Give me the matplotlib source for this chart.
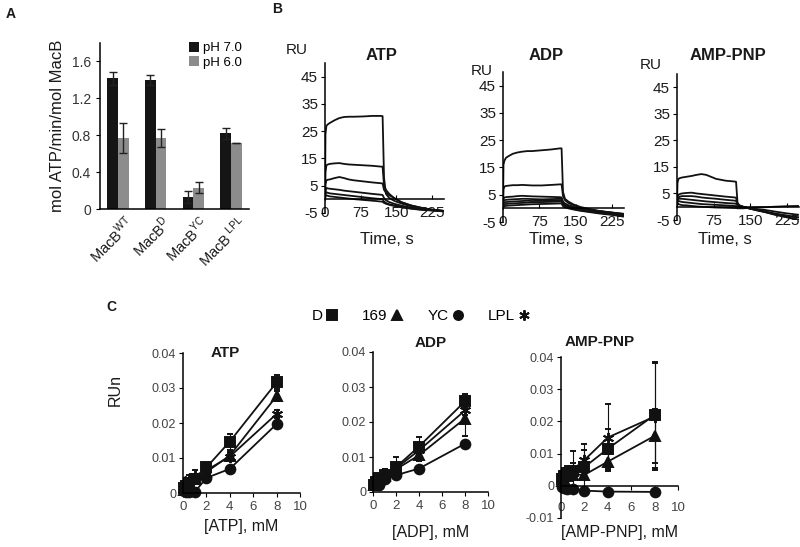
import matplotlib
matplotlib.use('Agg')
import matplotlib.pyplot as plt
from matplotlib.lines import Line2D
from matplotlib.transforms import ScaledTranslation

plt.rcParams['font.family'] = ['Liberation Sans', 'DejaVu Sans']
plt.rcParams['axes.linewidth'] = 1.1
plt.rcParams['axes.unicode_minus'] = False
plt.rcParams['mathtext.fontset'] = 'custom'
plt.rcParams['mathtext.rm'] = 'Liberation Sans'

# ---------------- Panel A data ----------------
a_groups = [r'MacB$^{\rm WT}$', r'MacB$^{\rm D}$', r'MacB$^{\rm YC}$', r'MacB$^{\rm\ LPL}$']
a_ph7 = [1.42, 1.40, 0.13, 0.82]
a_ph7_err = [0.07, 0.05, 0.07, 0.06]
a_ph6 = [0.77, 0.77, 0.23, 0.72]
a_ph6_err = [0.16, 0.10, 0.06, 0.0]
a_yticks = [0, 0.4, 0.8, 1.2, 1.6]

# ---------------- Panel B data (sensorgrams) ----------------
b_time = [0, 1, 3, 6, 10, 20, 30, 40, 50, 60, 80, 100, 118, 121, 124, 128, 135, 145, 160, 180, 200, 225, 248]
b_atp = [
    [0, 24, 27, 27.5, 28, 29, 29.8, 30.2, 30.3, 30.3, 30.4, 30.6, 30.6, 30.5, 8, 2, 0.5, -0.5, -1.5, -2.5, -3.2, -3.8, -4.2],
    [0, 10, 12.5, 12.8, 13, 13.2, 13.3, 13, 12.8, 12.7, 12.5, 12.3, 12, 12, 5, 3.5, 2, 0.5, -1, -2.2, -3, -3.8, -4.2],
    [0, 5.5, 7, 7.2, 7.3, 7.8, 8.2, 7.8, 7.3, 7, 6.6, 6.2, 5.9, 5.8, 3.5, 2.5, 1.5, 0.5, -1, -2.2, -3, -3.8, -4.2],
    [0, 3, 4.2, 4, 3.9, 3.7, 3.5, 3.2, 3, 2.8, 2.4, 2, 1.7, 1.6, 0.5, -0.3, -1, -1.6, -2.3, -3, -3.5, -4, -4.3],
    [0, 2, 2.6, 2.4, 2.2, 2, 1.8, 1.6, 1.4, 1.2, 0.8, 0.4, 0.1, 0, -0.8, -1.3, -1.8, -2.2, -2.8, -3.3, -3.7, -4, -4.3],
    [0, 1, 1.5, 1.3, 1.1, 0.9, 0.7, 0.5, 0.3, 0.1, -0.2, -0.5, -0.8, -0.9, -1.3, -1.6, -2, -2.4, -2.9, -3.4, -3.8, -4.1, -4.4],
]
b_adp = [
    [0, 16, 17.5, 18.5, 19, 20, 20.5, 20.8, 21, 21, 21.3, 21.6, 22, 22, 6, 3.5, 2.5, 1.5, 0.5, -0.3, -1, -1.6, -2],
    [0, 7, 8, 8.2, 8.3, 8.5, 8.5, 8.6, 8.5, 8.4, 8.4, 8.6, 8.8, 8.8, 4.5, 3, 2, 1.2, 0.3, -0.5, -1, -1.5, -2],
    [0, 3.5, 4, 4.1, 4.2, 4.3, 4.5, 4.6, 4.5, 4.4, 4.3, 4.2, 4.1, 4, 2.5, 1.8, 1.2, 0.6, 0, -0.6, -1.1, -1.6, -2.2],
    [0, 2.5, 3, 3.1, 3.2, 3.3, 3.4, 3.5, 3.5, 3.4, 3.3, 3.4, 3.5, 3.5, 2, 1.4, 0.9, 0.4, -0.2, -0.8, -1.3, -1.8, -2.4],
    [0, 1.8, 2.2, 2.3, 2.4, 2.5, 2.6, 2.7, 2.8, 2.7, 2.8, 2.9, 3, 3, 1.6, 1, 0.6, 0.1, -0.4, -1, -1.5, -2, -2.6],
    [0, 1, 1.5, 1.6, 1.7, 1.8, 1.9, 2, 2.1, 2.2, 2.3, 2.4, 2.5, 2.5, 1.2, 0.7, 0.3, -0.2, -0.7, -1.2, -1.7, -2.2, -2.8],
    [0, 0.5, 0.8, 0.9, 1, 1.1, 1.2, 1.3, 1.4, 1.5, 1.6, 1.7, 1.8, 1.8, 0.8, 0.4, 0, -0.4, -0.9, -1.4, -1.9, -2.4, -3],
]
b_amppnp = [
    [0, 9, 10.5, 10.8, 11, 11.3, 11.6, 12, 12.3, 12, 10.5, 9.8, 9.5, 9.4, 1.5, 0.5, 0, -0.5, -1.2, -2, -2.8, -3.5, -4],
    [0, 3.5, 4.5, 4.8, 5, 5.2, 5.3, 5, 4.8, 4.6, 4.2, 3.8, 3.5, 3.4, 1, 0.5, 0, -0.5, -1, -1.8, -2.5, -3.3, -4],
    [0, 3, 3.5, 3.8, 4, 4, 4, 3.8, 3.5, 3.3, 3, 2.6, 2.3, 2.2, 0.8, 0.3, 0, -0.5, -1.2, -2, -3, -4, -5],
    [0, 2.5, 3, 3, 3, 2.8, 2.6, 2.4, 2.2, 2, 1.7, 1.4, 1.2, 1.1, 0.5, 0.2, 0, -0.4, -1, -1.8, -2.8, -3.8, -5],
    [0, 2, 2.2, 2, 1.8, 1.6, 1.4, 1.2, 1, 0.9, 0.7, 0.5, 0.3, 0.2, 0, -0.2, -0.3, -0.5, -0.8, -1.2, -1.8, -2.5, -3],
    [0, 1.2, 1, 0.8, 0.6, 0.5, 0.3, 0.1, 0, -0.1, -0.3, -0.4, -0.5, -0.5, -0.6, -0.6, -0.6, -0.5, -0.3, -0.2, 0, 0.2, 0.3],
]
b_yticks = [-5, 5, 15, 25, 35, 45]
b_xticks = [0, 75, 150, 225]

# ---------------- Panel C data ----------------
c_conc = [0.125, 0.25, 0.5, 1, 2, 4, 8]
c_series = ['D', '169', 'YC', 'LPL']
# ATP
c_atp_D = [0.0015, 0.002, 0.003, 0.004, 0.0073, 0.0147, 0.0316]
c_atp_D_err = [0.0005, 0.0005, 0.001, 0.001, 0.001, 0.0023, 0.002]
c_atp_169 = [0.001, 0.0015, 0.0025, 0.004, 0.006, 0.0107, 0.0277]
c_atp_169_err = [0.0005, 0.0005, 0.0008, 0.001, 0.001, 0.001, 0.0015]
c_atp_YC = [0.0005, 0.0003, 0.0003, 0.0003, 0.0043, 0.0069, 0.0197]
c_atp_YC_err = [0.0003, 0.0003, 0.0003, 0.0003, 0.0005, 0.0008, 0.001]
c_atp_LPL = [0.002, 0.003, 0.004, 0.005, 0.0065, 0.0104, 0.0226]
c_atp_LPL_err = [0.0008, 0.001, 0.0012, 0.0015, 0.001, 0.001, 0.0012]
# ADP
c_adp_D = [0.002, 0.003, 0.004, 0.005, 0.0071, 0.013, 0.0259]
c_adp_D_err = [0.0005, 0.0005, 0.001, 0.0015, 0.003, 0.0027, 0.002]
c_adp_169 = [0.002, 0.0025, 0.0035, 0.0045, 0.0065, 0.0105, 0.021]
c_adp_169_err = [0.0005, 0.0005, 0.0008, 0.001, 0.001, 0.0015, 0.005]
c_adp_YC = [0.0025, 0.0025, 0.0021, 0.0036, 0.0048, 0.0067, 0.0138]
c_adp_YC_err = [0.0005, 0.0005, 0.0005, 0.0005, 0.0005, 0.0005, 0.0008]
c_adp_LPL = [0.002, 0.003, 0.004, 0.005, 0.0068, 0.0119, 0.0233]
c_adp_LPL_err = [0.0005, 0.0008, 0.001, 0.0015, 0.001, 0.001, 0.0012]
# AMP-PNP
c_amp_D = [0.002, 0.003, 0.004, 0.0047, 0.0058, 0.0115, 0.022]
c_amp_D_err = [0.001, 0.002, 0.002, 0.006, 0.0072, 0.006, 0.0165]
c_amp_169 = [0.0015, 0.002, 0.003, 0.0035, 0.0034, 0.0075, 0.0155]
c_amp_169_err = [0.0005, 0.001, 0.001, 0.001, 0.001, 0.0025, 0.0085]
c_amp_YC = [-0.0005, -0.0008, -0.001, -0.001, -0.0015, -0.0018, -0.0019]
c_amp_YC_err = [0.0002, 0.0002, 0.0002, 0.0002, 0.0002, 0.0002, 0.0002]
c_amp_LPL = [0.002, 0.003, 0.004, 0.005, 0.008, 0.015, 0.0215]
c_amp_LPL_err = [0.001, 0.001, 0.0015, 0.002, 0.003, 0.0105, 0.0165]
c_xticks = [0, 2, 4, 6, 8, 10]

W, H = 800, 547
fig = plt.figure(figsize=(W / 100, H / 100), dpi=100)


def ax_px(l, t, r, b):
    return fig.add_axes([l / W, 1 - b / H, (r - l) / W, (b - t) / H])


TXT = '#1a1a1a'
TICK = '#333333'

# ================= Panel A =================
axA = ax_px(100, 43, 249, 209)
xs = list(range(len(a_groups)))
bw = 0.285
axA.bar([x - bw / 2 for x in xs], a_ph7, width=bw, color='#151515', label='pH 7.0',
        yerr=a_ph7_err, error_kw=dict(ecolor='#222222', elinewidth=1, capsize=3, capthick=1))
axA.bar([x + bw / 2 for x in xs], a_ph6, width=bw, color='#8c8c8c', label='pH 6.0',
        yerr=a_ph6_err, error_kw=dict(ecolor='#222222', elinewidth=1, capsize=3, capthick=1))
axA.set_xlim(-0.48, 3.48)
axA.set_ylim(0, 1.8)
axA.set_yticks(a_yticks)
axA.set_yticklabels(['0', '0.4', '0.8', '1.2', '1.6'])
axA.set_xticks(xs)
axA.set_xticklabels(a_groups, rotation=45, ha='right', va='top', rotation_mode='anchor', fontsize=10.5)
axA.tick_params(axis='x', length=0, pad=3, labelcolor=TXT)
shift = ScaledTranslation(6 / 100, 0, fig.dpi_scale_trans)
for lab in axA.get_xticklabels():
    lab.set_transform(lab.get_transform() + shift)
axA.tick_params(axis='y', direction='out', length=3, labelsize=10, labelcolor=TICK)
axA.spines['top'].set_visible(False)
axA.spines['right'].set_visible(False)
axA.set_ylabel('mol ATP/min/mol MacB', fontsize=12, color=TXT, labelpad=5)
axA.legend(loc='upper left', bbox_to_anchor=(0.56, 1.04), frameon=False, fontsize=9.5,
           handlelength=0.8, handleheight=0.8, handletextpad=0.3, labelspacing=0.15,
           borderaxespad=0)
fig.text(6 / W, 1 - 14 / H, 'A', fontsize=10, fontweight='bold', va='center', color=TXT)
fig.text(272 / W, 1 - 9 / H, 'B', fontsize=10, fontweight='bold', va='center', color=TXT)
fig.text(106 / W, 1 - 307 / H, 'C', fontsize=10, fontweight='bold', va='center', color=TXT)

# ================= Panel B =================
b_specs = [
    ('ATP', b_atp, (325, 63, 444, 213), (382, 55), (297, 50), 387),
    ('ADP', b_adp, (503, 72, 624, 222), (546, 56), (482, 71), 556),
    ('AMP-PNP', b_amppnp, (677, 74, 799, 220), (728, 56), (651, 65), 725),
]
for name, curves, box, tpos, rupos, tx in b_specs:
    ax = ax_px(*box)
    for yv in curves:
        ax.plot(b_time, yv, color='#111111', lw=1.3)
    ax.set_xlim(0, 250)
    ax.set_ylim(-5, 50)
    ax.set_yticks(b_yticks)
    ax.set_xticks(b_xticks)
    ax.spines['top'].set_visible(False)
    ax.spines['right'].set_visible(False)
    ax.spines['bottom'].set_position(('data', 0))
    ax.tick_params(axis='y', direction='out', length=3, labelsize=11, labelcolor=TXT, pad=2)
    ax.tick_params(axis='x', direction='in', length=3, labelsize=11, labelcolor=TXT, pad=5)
    fig.text(tpos[0] / W, 1 - tpos[1] / H, name, fontsize=12, fontweight='bold',
             ha='center', va='center', color=TXT)
    fig.text(rupos[0] / W, 1 - rupos[1] / H, 'RU', fontsize=11, ha='center', va='center', color=TXT)
    fig.text(tx / W, 1 - 240 / H, 'Time, s', fontsize=12,
             ha='center', va='center', color=TXT)

# ================= Panel C =================
markers = {'D': 's', '169': '^', 'YC': 'o', 'LPL': (6, 2, 0)}
msizes = {'D': 7, '169': 7, 'YC': 7, 'LPL': 8}
c_specs = [
    ('ATP', '[ATP], mM', (183, 353, 300, 493), (0, 0.04),
     [(c_atp_D, c_atp_D_err), (c_atp_169, c_atp_169_err), (c_atp_YC, c_atp_YC_err), (c_atp_LPL, c_atp_LPL_err)],
     (225, 353), 527, 3),
    ('ADP', '[ADP], mM', (373, 352, 488, 492), (0, 0.04),
     [(c_adp_D, c_adp_D_err), (c_adp_169, c_adp_169_err), (c_adp_YC, c_adp_YC_err), (c_adp_LPL, c_adp_LPL_err)],
     (431, 343), 533, 3),
    ('AMP-PNP', '[AMP-PNP], mM', (561, 357, 678, 518), (-0.01, 0.04),
     [(c_amp_D, c_amp_D_err), (c_amp_169, c_amp_169_err), (c_amp_YC, c_amp_YC_err), (c_amp_LPL, c_amp_LPL_err)],
     (600, 342), 533, 9),
]
for name, xlab, box, ylim, data, tpos, xly, xpad in c_specs:
    ax = ax_px(*box)
    for s, (vals, errs) in zip(c_series, data):
        ax.errorbar(c_conc, vals, yerr=errs, color='#111111', lw=1.3, marker=markers[s],
                    ms=msizes[s], mew=1.4, mec='#111111', mfc='#111111',
                    ecolor='#111111', elinewidth=0.8, capsize=2.5, capthick=0.8, clip_on=False)
    ax.set_xlim(0, 10)
    ax.set_ylim(*ylim)
    ax.set_xticks(c_xticks)
    if ylim[0] < 0:
        ax.set_yticks([-0.01, 0, 0.01, 0.02, 0.03, 0.04])
        ax.set_yticklabels(['-0.01', '0', '0.01', '0.02', '0.03', '0.04'])
    else:
        ax.set_yticks([0, 0.01, 0.02, 0.03, 0.04])
        ax.set_yticklabels(['0', '0.01', '0.02', '0.03', '0.04'])
    ax.spines['top'].set_visible(False)
    ax.spines['right'].set_visible(False)
    ax.spines['bottom'].set_position(('data', 0))
    ax.tick_params(axis='y', direction='out', length=3, labelsize=9, labelcolor='#444444', pad=2)
    ax.tick_params(axis='x', direction='out', length=3, labelsize=9.5, labelcolor='#444444', pad=xpad)
    fig.text(tpos[0] / W, 1 - tpos[1] / H, name, fontsize=11, fontweight='bold',
             ha='center', va='center', color=TXT)
    fig.text((box[0] + box[2]) / 2 / W, 1 - xly / H, xlab, fontsize=11.5, ha='center', va='center', color=TXT)

fig.text(115 / W, 1 - 390 / H, 'RUn', fontsize=11.5, rotation=90, ha='center', va='center', color=TXT)

handles = [Line2D([], [], ls='none', marker=markers[s], ms=msizes[s] - 0.5, mew=1.4,
                  color='#111111') for s in c_series]
fig.legend(handles, c_series, loc='center', bbox_to_anchor=(421 / W, 1 - 316 / H), ncol=4,
           frameon=False, markerfirst=False, fontsize=11, handlelength=0.8, handletextpad=0.2,
           columnspacing=1.6, borderaxespad=0)

fig.savefig('out.png', dpi=100)
